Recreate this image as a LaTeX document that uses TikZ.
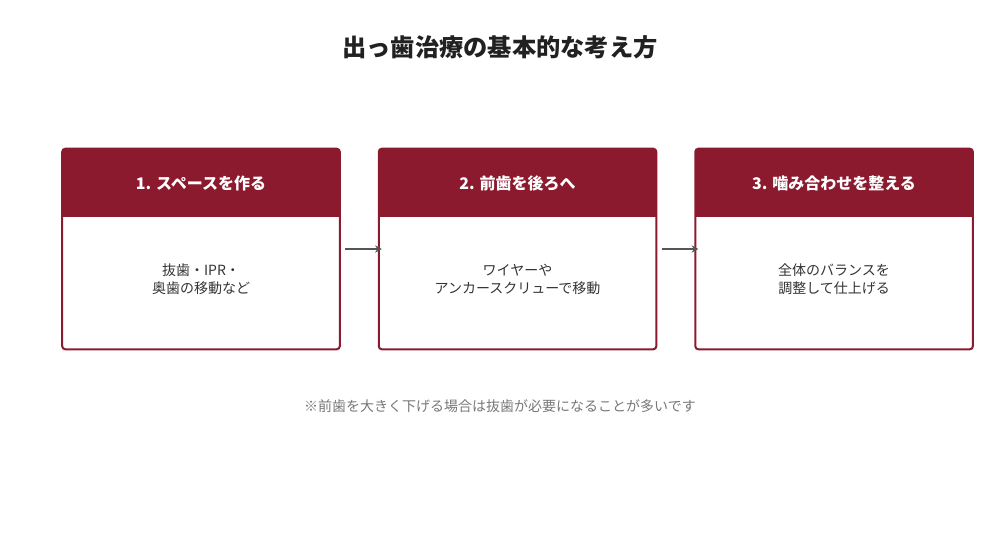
\documentclass[tikz,border=0pt]{standalone}
\usepackage{fontspec}
\setmainfont{Noto Sans CJK JP}
\usetikzlibrary{positioning,calc,arrows.meta}
\definecolor{cardred}{HTML}{8B1A2E}
\definecolor{inktext}{HTML}{333333}
\definecolor{notegray}{HTML}{777777}
\definecolor{arrowgray}{HTML}{555555}

\begin{document}
\begin{tikzpicture}[x=0.75pt,y=-0.75pt,
  card/.style={minimum width=207.75pt, minimum height=150pt, inner sep=0pt},
  outline/.style={draw=cardred, line width=1.5pt, rounded corners=2.25pt},
  head/.style={fill=cardred, text=white, font=\fontsize{12}{14}\selectfont\bfseries,
    minimum width=207.75pt, minimum height=51pt, inner sep=0pt, anchor=north},
  body/.style={text=inktext, font=\fontsize{10.5}{13}\selectfont, align=center},
  flow/.style={draw=arrowgray, line width=1.8pt, shorten <=4pt, shorten >=-2.25pt,
    -{Stealth[length=5pt,width=5.5pt]}}]
 \useasboundingbox (0,0) rectangle (1000,547);

    %Title
    \node[font=\fontsize{18.2}{22}\selectfont\bfseries, text=black!87] (title) at (500,47) {出っ歯治療の基本的な考え方};

    %Cards
    \node[card] (card1) at (201,249) {};
    \node[card, right=29.25pt of card1] (card2) {};
    \node[card, right=29.25pt of card2] (card3) {};

    \node[head] (head1) at (card1.north) {1. スペースを作る};
    \node[head] (head2) at (card2.north) {2. 前歯を後ろへ};
    \node[head] (head3) at (card3.north) {3. 噛み合わせを整える};

    \draw[outline] (card1.north west) rectangle (card1.south east);
    \draw[outline] (card2.north west) rectangle (card2.south east);
    \draw[outline] (card3.north west) rectangle (card3.south east);

    \node[body] (text1) at ($(head1.south)!0.47!(card1.south)$) {抜歯・IPR・\\奥歯の移動など};
    \node[body] (text2) at ($(head2.south)!0.47!(card2.south)$) {ワイヤーや\\アンカースクリューで移動};
    \node[body] (text3) at ($(head3.south)!0.47!(card3.south)$) {全体のバランスを\\調整して仕上げる};

    %Arrows
    \draw[flow] (card1.east) -- (card2.west);
    \draw[flow] (card2.east) -- (card3.west);

    %Note
    \node[text=notegray, font=\fontsize{10.5}{13}\selectfont] (note) at (500,406) {※前歯を大きく下げる場合は抜歯が必要になることが多いです};
\end{tikzpicture}
\end{document}
